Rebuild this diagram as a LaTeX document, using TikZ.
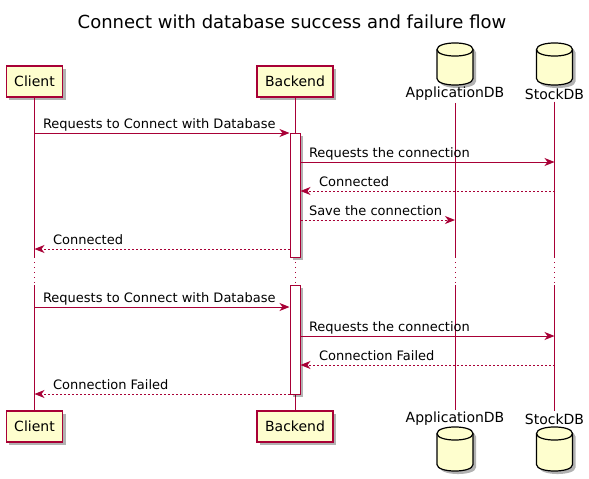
\documentclass[tikz,border=0pt]{standalone}
\usepackage{fontspec}
\setmainfont{DejaVu Sans}
\usetikzlibrary{arrows.meta,shadows}
\definecolor{umlred}{HTML}{A80036}
\definecolor{umlyellow}{HTML}{FEFECE}
\newcommand\dbcyl[3]{%
  \fill[black,opacity=.3,shift={(3,3)}] (#1-18,#2+6.5) .. controls (#1-18,#2-2.2) and (#1+18,#2-2.2) .. (#1+18,#2+6.5)
    -- (#1+18,#3-6.5) .. controls (#1+18,#3+2.2) and (#1-18,#3+2.2) .. (#1-18,#3-6.5) -- cycle;
  \filldraw[fill=umlyellow,draw=black,line width=1.2pt] (#1-18,#2+6.5) .. controls (#1-18,#2-2.2) and (#1+18,#2-2.2) .. (#1+18,#2+6.5)
    -- (#1+18,#3-6.5) .. controls (#1+18,#3+2.2) and (#1-18,#3+2.2) .. (#1-18,#3-6.5) -- cycle;
  \draw[line width=1.2pt] (#1-18,#2+6.5) .. controls (#1-18,#2+15.2) and (#1+18,#2+15.2) .. (#1+18,#2+6.5);}

\begin{document}
\begin{tikzpicture}[x=1pt,y=-1pt,
  part/.style={draw=umlred,fill=umlyellow,line width=1.2pt,minimum height=31pt,inner xsep=8pt,
    font=\fontsize{14}{16}\selectfont,drop shadow={shadow xshift=3pt,shadow yshift=-3pt,fill=black,opacity=.3}},
  dblabel/.style={inner sep=2pt,font=\fontsize{14}{16}\selectfont},
  life/.style={umlred,line width=1pt},
  delay/.style={umlred,line width=1pt,dash pattern=on 1pt off 4pt},
  actbox/.style={draw=umlred,fill=white,line width=1pt,minimum width=10pt,inner sep=0pt,
    drop shadow={shadow xshift=3pt,shadow yshift=-3pt,fill=black,opacity=.3}},
  msg/.style={umlred,line width=1pt,-{Stealth[length=10pt,width=8pt,inset=3pt]}},
  ret/.style={msg,dash pattern=on 2pt off 2pt},
  lbl/.style={anchor=base west,inner sep=0pt,yshift=5pt,text=black,font=\fontsize{13}{15}\selectfont},
  fwd/.style={pos=0,xshift=8pt},
  back/.style={pos=1,xshift=18pt}]
  \useasboundingbox (0,0) rectangle (589,479);
  \node[font=\fontsize{18}{20}\selectfont,anchor=base] (title) at (292,28) {Connect with database success and failure flow};
  \node[part] (client) at (34.5,81.5) {Client};
  \node[part] (backend) at (295,81.5) {Backend};
  \node[part] (clientb) at (34.5,426.5) {Client};
  \node[part] (backendb) at (295,426.5) {Backend};
  \dbcyl{455}{43}{85}
  \dbcyl{554.5}{43}{85}
  \dbcyl{455}{427}{471}
  \dbcyl{554.5}{427}{471}
  \node[dblabel] (appdb) at (455,94) {ApplicationDB};
  \node[dblabel] (stockdb) at (554.5,94) {StockDB};
  \node[dblabel] (appdbb) at (455,419) {ApplicationDB};
  \node[dblabel] (stockdbb) at (554.5,419) {StockDB};
  \coordinate (d1) at (0,258);
  \coordinate (d2) at (0,262);
  \coordinate (d3) at (0,283);
  \coordinate (d4) at (0,285);
  \foreach \p/\q in {client/clientb,backend/backendb,appdb/appdbb,stockdb/stockdbb} {
    \draw[life] (\p.south) -- (\p |- d1);
    \draw[delay] (\p |- d2) -- (\p |- d3);
    \draw[life] (\p |- d4) -- (\q.north);
  }
  \node[actbox,minimum height=124pt] (act1) at (295,195) {};
  \node[actbox,minimum height=109pt] (act2) at (295,339.5) {};
  \foreach \y [count=\i] in {133,162,191,220,249,307,336,365,394}
    \coordinate (m\i) at (0,\y);
  \foreach \i/\a/\b/\s/\d/\t in {
    1/client/act1.west/msg/fwd/Requests to Connect with Database,
    2/act1.east/stockdb/msg/fwd/Requests the connection,
    3/stockdb/act1.east/ret/back/Connected,
    4/act1.east/appdb/ret/fwd/Save the connection,
    5/act1.west/client/ret/back/Connected,
    6/client/act2.west/msg/fwd/Requests to Connect with Database,
    7/act2.east/stockdb/msg/fwd/Requests the connection,
    8/stockdb/act2.east/ret/back/Connection Failed,
    9/act2.west/client/ret/back/Connection Failed}
    \draw[\s] (\a |- m\i) -- node[lbl,\d] (t\i) {\t} (\b |- m\i);
\end{tikzpicture}
\end{document}
